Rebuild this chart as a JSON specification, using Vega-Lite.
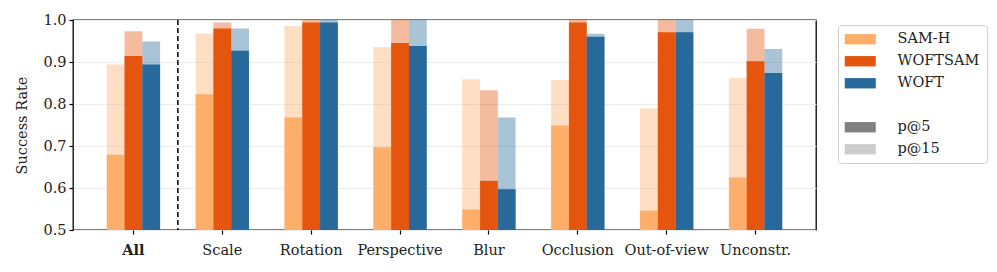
{
  "$schema": "https://vega.github.io/schema/vega-lite/v6.json",
  "autosize": "none",
  "width": 743,
  "height": 210,
  "padding": {"left": 73, "top": 20, "right": 181, "bottom": 42},
  "config": {
    "view": {"stroke": "#000000", "strokeWidth": 1.3}
  },
  "datasets": {
    "rates": [
      {"cat": "All", "series": "SAM-H", "p5": 0.679, "p15": 0.894},
      {"cat": "All", "series": "WOFTSAM", "p5": 0.914, "p15": 0.973},
      {"cat": "All", "series": "WOFT", "p5": 0.894, "p15": 0.949},
      {"cat": "Scale", "series": "SAM-H", "p5": 0.823, "p15": 0.968},
      {"cat": "Scale", "series": "WOFTSAM", "p5": 0.980, "p15": 0.994},
      {"cat": "Scale", "series": "WOFT", "p5": 0.927, "p15": 0.980},
      {"cat": "Rotation", "series": "SAM-H", "p5": 0.768, "p15": 0.986},
      {"cat": "Rotation", "series": "WOFTSAM", "p5": 0.994, "p15": 1.0},
      {"cat": "Rotation", "series": "WOFT", "p5": 0.994, "p15": 1.0},
      {"cat": "Perspective", "series": "SAM-H", "p5": 0.697, "p15": 0.936},
      {"cat": "Perspective", "series": "WOFTSAM", "p5": 0.945, "p15": 1.0},
      {"cat": "Perspective", "series": "WOFT", "p5": 0.938, "p15": 1.0},
      {"cat": "Blur", "series": "SAM-H", "p5": 0.549, "p15": 0.859},
      {"cat": "Blur", "series": "WOFTSAM", "p5": 0.617, "p15": 0.833},
      {"cat": "Blur", "series": "WOFT", "p5": 0.597, "p15": 0.768},
      {"cat": "Occlusion", "series": "SAM-H", "p5": 0.749, "p15": 0.857},
      {"cat": "Occlusion", "series": "WOFTSAM", "p5": 0.994, "p15": 1.0},
      {"cat": "Occlusion", "series": "WOFT", "p5": 0.960, "p15": 0.967},
      {"cat": "Out-of-view", "series": "SAM-H", "p5": 0.546, "p15": 0.789},
      {"cat": "Out-of-view", "series": "WOFTSAM", "p5": 0.971, "p15": 1.0},
      {"cat": "Out-of-view", "series": "WOFT", "p5": 0.971, "p15": 1.0},
      {"cat": "Unconstr.", "series": "SAM-H", "p5": 0.625, "p15": 0.862},
      {"cat": "Unconstr.", "series": "WOFTSAM", "p5": 0.902, "p15": 0.979},
      {"cat": "Unconstr.", "series": "WOFT", "p5": 0.874, "p15": 0.931}
    ]
  },
  "data": {"name": "rates"},
  "encoding": {
    "x": {
      "field": "cat", "type": "nominal",
      "sort": ["All", "Scale", "Rotation", "Perspective", "Blur", "Occlusion", "Out-of-view", "Unconstr."],
      "scale": {"paddingInner": 0.4, "paddingOuter": 0.38},
      "axis": {
        "title": null, "labelAngle": 0, "labelFont": "DejaVu Serif", "labelFontSize": 14.5, "labelColor": "#222",
        "domain": false, "tickColor": "#000", "tickSize": 4, "tickWidth": 1.2, "labelPadding": 9,
        "labelFontWeight": {"condition": {"test": "datum.value == 'All'", "value": "bold"}, "value": "normal"}
      }
    }
  },
  "layer": [
    {
      "mark": {"type": "bar", "opacity": 0.4},
      "encoding": {
        "xOffset": {"field": "series", "type": "nominal", "sort": ["SAM-H", "WOFTSAM", "WOFT"]},
        "y": {"field": "p15", "type": "quantitative",
          "scale": {"domain": [0.5, 1.0], "zero": false, "nice": false, "clamp": true},
          "axis": {"title": "Success Rate", "titleFont": "DejaVu Serif", "titleFontSize": 14.5, "titleFontWeight": "normal", "titleColor": "#222",
            "labelFont": "DejaVu Serif", "labelFontSize": 14.5, "labelColor": "#222", "domain": false, "tickColor": "#000",
            "values": [0.5, 0.6, 0.7, 0.8, 0.9, 1.0], "format": ".1f", "tickSize": 4, "tickWidth": 1.2, "labelPadding": 3,
            "gridColor": "#ececec", "gridWidth": 1, "titlePadding": 13}},
        "y2": {"datum": 0.5},
        "color": {
          "field": "series", "type": "nominal",
          "scale": {"domain": ["SAM-H", "WOFTSAM", "WOFT", " ", "p@5", "p@15"], "range": ["#fdae6b", "#e6550d", "#27699a", "rgba(255,255,255,0)", "#808080", "#cccccc"]},
          "legend": {
            "title": null, "orient": "none", "legendX": 765, "legendY": 5,
            "symbolType": "M-3,-1H3V1H-3Z", "symbolSize": 107, "symbolOffset": 8, "symbolStrokeWidth": 0, "symbolOpacity": 1,
            "labelFont": "DejaVu Serif", "labelFontSize": 14.5, "labelColor": "#222", "rowPadding": 7, "labelOffset": 30,
            "strokeColor": "#d0d0d0", "cornerRadius": 3, "padding": 7, "fillColor": "white"
          }
        }
      }
    },
    {
      "mark": {"type": "bar", "opacity": 1},
      "encoding": {
        "xOffset": {"field": "series", "type": "nominal", "sort": ["SAM-H", "WOFTSAM", "WOFT"]},
        "y": {"field": "p5", "type": "quantitative"},
        "y2": {"datum": 0.5},
        "color": {"field": "series", "type": "nominal"}
      }
    },
    {
      "data": {"values": [{"cat": "All"}]},
      "mark": {"type": "rule", "color": "#000000", "strokeWidth": 1.5, "strokeDash": [5, 3]},
      "encoding": {
        "x": {"field": "cat", "type": "nominal", "bandPosition": 1.3333}
      }
    }
  ]
}
